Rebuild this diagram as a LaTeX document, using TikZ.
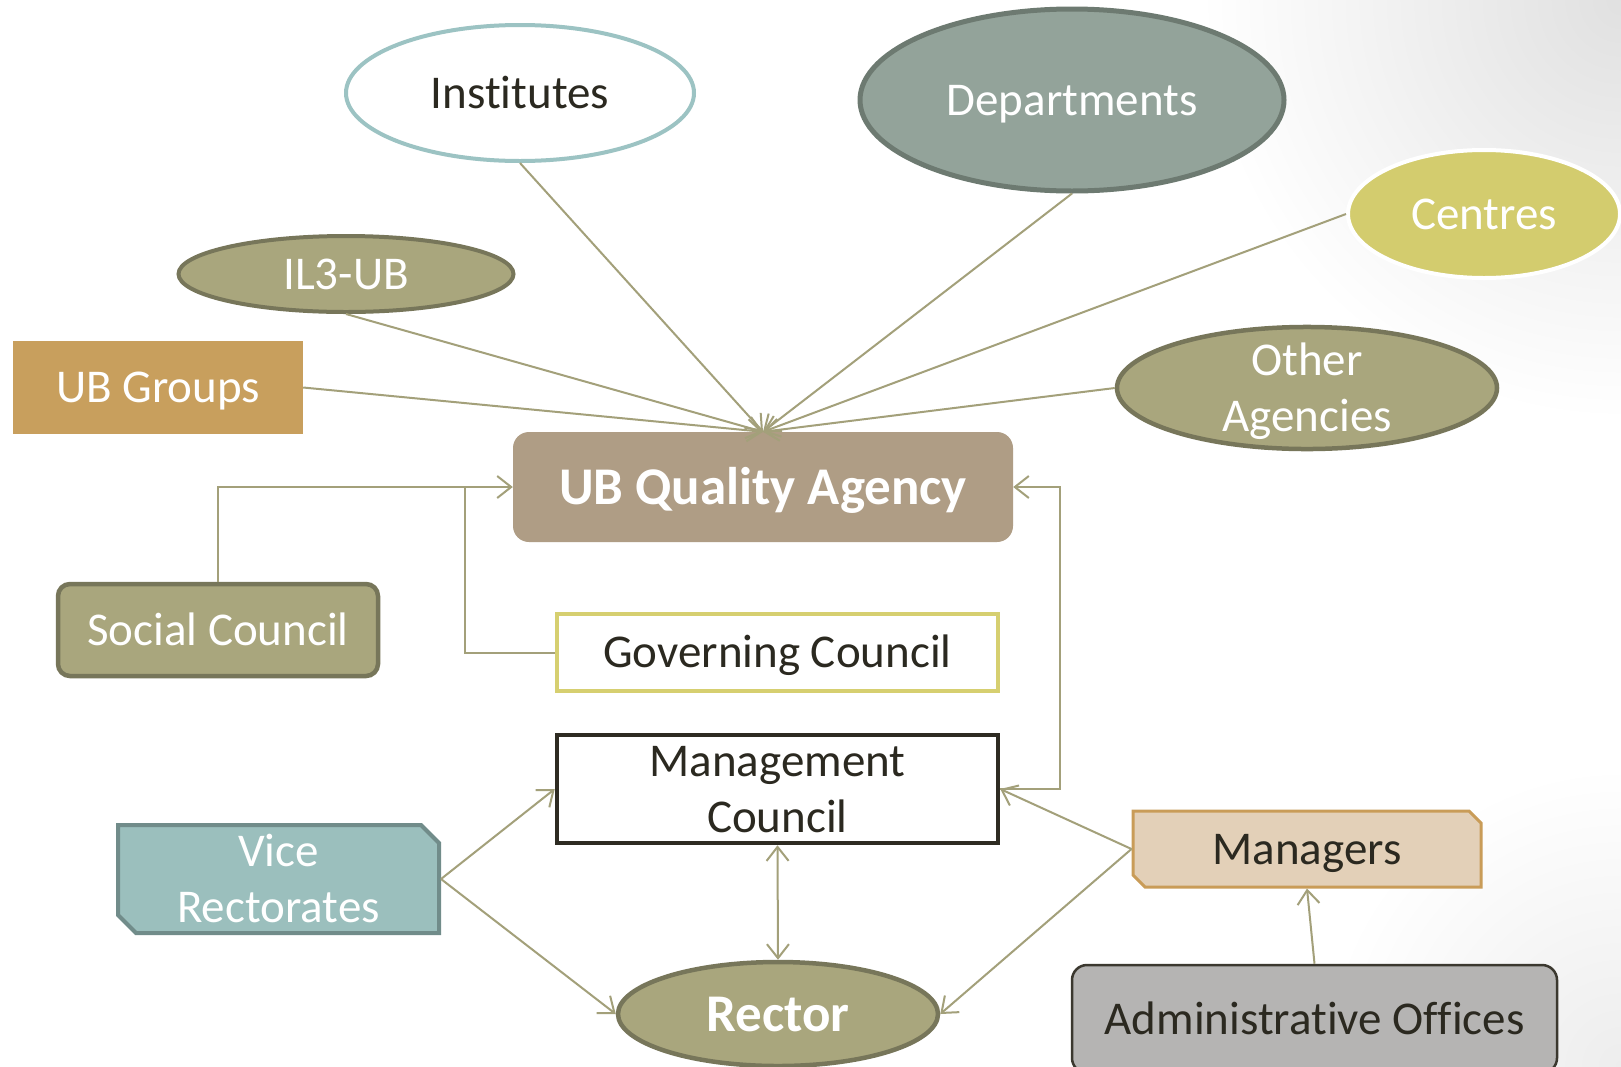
\documentclass[tikz,border=0pt]{standalone}
\usepackage{fontspec}
\setmainfont{Carlito}[Ligatures={NoCommon}]
\usetikzlibrary{shapes.geometric,shapes.misc,arrows.meta}
\definecolor{lineC}{HTML}{A3A07A}
\definecolor{oliveF}{HTML}{A9A67D}
\definecolor{oliveD}{HTML}{77765A}
\definecolor{deptF}{HTML}{93A39A}
\definecolor{deptD}{HTML}{6D7A71}
\definecolor{instD}{HTML}{9CC3C3}
\definecolor{centF}{HTML}{D3CC6E}
\definecolor{grpF}{HTML}{C89F5D}
\definecolor{qaF}{HTML}{AF9D85}
\definecolor{gcD}{HTML}{D6CF70}
\definecolor{mcD}{HTML}{2E2B22}
\definecolor{viceF}{HTML}{9BBFBD}
\definecolor{viceD}{HTML}{718C8A}
\definecolor{mgF}{HTML}{E3D0B8}
\definecolor{mgD}{HTML}{C99C58}
\definecolor{aoF}{HTML}{B5B4B3}
\definecolor{aoD}{HTML}{3B382F}
\definecolor{darkT}{HTML}{2B2920}
\newcommand\twoln[2]{\vbox{\baselineskip=56pt\lineskiplimit=-200pt\lineskip=0pt\halign{\hfil##\hfil\cr#1\cr#2\cr}}}
\begin{document}
\begin{tikzpicture}[x=1pt,y=-1pt,
  >={Straight Barb[length=14pt,width=22pt]},
  base/.style={inner sep=0pt, font=\fontsize{47}{56}\selectfont, text height=30.3pt, text depth=0pt, text=white},
  boldt/.style={base, font=\fontsize{53}{60}\selectfont\bfseries, text height=34.1pt},
  twol/.style={text height=86.3pt},
  ell/.style={base, ellipse},
  box/.style={base, rectangle},
  snip/.style={base, chamfered rectangle, chamfered rectangle corners={north east,south west}},
  conn/.style={draw=lineC, line width=2pt}
]
\useasboundingbox (0,0) rectangle (1621,1066);
\clip (0,0) rectangle (1621,1066);
\fill[white] (0,0) rectangle (1621,1066);
\shade[inner color=black!12, outer color=white] (1621,0) circle[radius=420];
\shade[inner color=black!7, outer color=white] (1621,1066) circle[radius=300];

% nodes
\node[ell, draw=instD, line width=4pt, fill=white, text=darkT, minimum width=348pt, minimum height=136pt] (inst) at (520,93) {Institutes};
\node[ell, draw=deptD, line width=5pt, fill=deptF, minimum width=424pt, minimum height=182pt] (dept) at (1072,100) {Departments};
\node[ell, draw=white, line width=4pt, fill=centF, minimum width=272pt, minimum height=128pt] (cent) at (1484,214) {Centres};
\node[ell, draw=oliveD, line width=4pt, fill=oliveF, minimum width=335pt, minimum height=76pt] (il3) at (346,274) {IL3-UB};
\node[box, fill=grpF, minimum width=290pt, minimum height=93pt] (grp) at (158,387.5) {UB Groups};
\node[ell, twol, draw=oliveD, line width=4.5pt, fill=oliveF, minimum width=380pt, minimum height=121pt] (oth) at (1307,388) {\twoln{Other}{Agencies}};
\node[boldt, rectangle, rounded corners=16pt, fill=qaF, minimum width=500pt, minimum height=110pt] (qa) at (763,487) {UB Quality Agency};
\node[box, rounded corners=12pt, draw=oliveD, line width=4.5pt, fill=oliveF, minimum width=320pt, minimum height=92pt] (sc) at (218,630) {Social Council};
\node[box, draw=gcD, line width=4pt, fill=white, text=darkT, minimum width=441pt, minimum height=77pt] (gc) at (777.5,652.5) {Governing Council};
\node[box, twol, draw=mcD, line width=4.5pt, fill=white, text=darkT, minimum width=441pt, minimum height=108pt] (mc) at (777.5,789) {\twoln{Management}{Council}};
\node[snip, twol, chamfered rectangle xsep=9pt, chamfered rectangle ysep=9pt, draw=viceD, line width=4pt, fill=viceF, minimum width=321pt, minimum height=108pt] (vice) at (278.5,879) {\twoln{Vice}{Rectorates}};
\node[snip, chamfered rectangle xsep=6pt, chamfered rectangle ysep=6pt, draw=mgD, line width=3pt, fill=mgF, text=darkT, minimum width=348pt, minimum height=76pt] (mg) at (1307,849) {Managers};
\node[ell, boldt, draw=oliveD, line width=4.5pt, fill=oliveF, minimum width=320pt, minimum height=104pt] (rect) at (778,1014) {Rector};
\node[box, rounded corners=15pt, draw=aoD, line width=2.5pt, fill=aoF, text=darkT, minimum width=485pt, minimum height=108pt] (ao) at (1314.5,1019) {Administrative Offices};

% junction coordinates
\coordinate (j1) at (465,487);
\coordinate (j2) at (1060,789);

% connectors
\draw[conn,->] (inst.south) -- (qa.north);
\draw[conn,->] (dept.south) -- (qa.north);
\draw[conn,->] (cent.west) -- (qa.north);
\draw[conn,->] (il3.south) -- (qa.north);
\draw[conn,->] (grp.east) -- (qa.north);
\draw[conn,->] (oth.west) -- (qa.north);
\draw[conn,->] (sc.north) |- (qa.west);
\draw[conn] (gc.west) -| (j1);
\draw[conn,->] (mc.east) -- (j2) |- (qa.east);
\draw[conn,->] (mg.west) -- (mc.east);
\draw[conn,->] (mg.west) -- (rect.east);
\draw[conn,->] (vice.east) -- (mc.west);
\draw[conn,->] (vice.east) -- (rect.west);
\draw[conn,<->] (mc.south) -- (rect.north);
\draw[conn,->] (ao.north) -- (mg.south);
\end{tikzpicture}
\end{document}
